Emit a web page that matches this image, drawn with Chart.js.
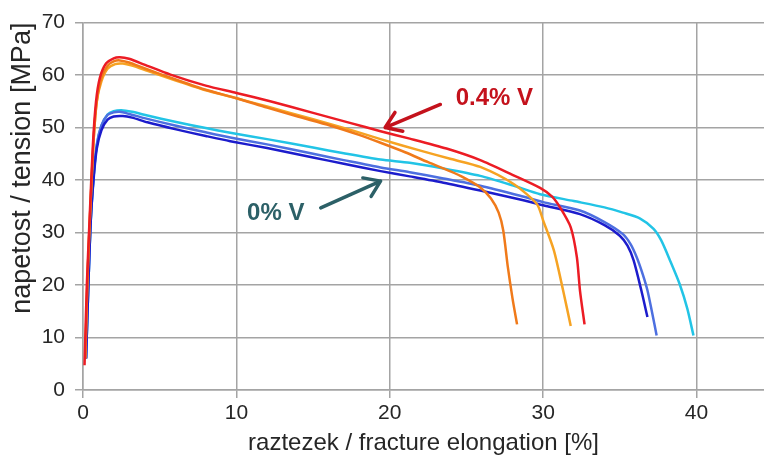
<!DOCTYPE html>
<html>
<head>
<meta charset="utf-8">
<script src="https://cdn.jsdelivr.net/npm/chart.js@4.4.1/dist/chart.umd.min.js"></script>
<style>
    html, body { margin: 0; padding: 0; background: #fff; }
    #wrap { width: 764px; height: 460px; }
</style>
</head>
<body>
<div id="wrap"><canvas id="tensileChart" width="764" height="460"></canvas></div>
<script>
// Tensile curves (elongation %, tension MPa)
const yTicks = [0, 10, 20, 30, 40, 50, 60, 70];
const xTicks = [0, 10, 20, 30, 40];

// 0.4% V samples
const redX = [0.1, 0.25, 0.45, 0.65, 0.85, 1.1, 1.5, 2.0, 2.4, 3.0, 4.0, 5.7, 8, 10, 12.2, 15, 17.4, 19.4, 21.3, 23.7, 25.9, 28.0, 29.8, 30.6, 31.1, 31.8, 32.2, 32.4, 32.7];
const redY = [4.7, 20, 34, 47, 55, 59.5, 62.2, 63.2, 63.4, 63.1, 62.0, 60.1, 58.0, 56.6, 55.0, 52.8, 50.9, 49.3, 47.9, 46.0, 43.8, 41.0, 38.5, 36.8, 34.8, 31.0, 25.3, 19.0, 12.5];

const amberX = [0.15, 0.3, 0.5, 0.7, 0.9, 1.2, 1.6, 2.1, 2.6, 3.2, 4.2, 6, 8, 10, 12, 15, 17.4, 19.4, 22, 24, 25.9, 28.1, 29.6, 30.0, 30.7, 31.3, 31.8];
const amberY = [6, 22, 36, 48, 55, 58.8, 61.2, 62.1, 62.2, 61.8, 60.8, 59.0, 57.1, 55.6, 54.0, 51.6, 49.6, 47.8, 45.6, 44.0, 42.5, 39.2, 35.4, 32.3, 26.6, 19.0, 12.2];

const orangeX = [0.15, 0.3, 0.5, 0.7, 0.9, 1.2, 1.6, 2.0, 2.4, 3.0, 4.0, 6, 8, 10, 12, 14, 16.1, 18, 19.4, 21, 22.5, 24, 24.8, 25.9, 26.6, 27.1, 27.4, 27.7, 28.0, 28.3];
const orangeY = [6, 22, 36, 48, 55, 59.5, 61.8, 62.6, 62.8, 62.4, 61.3, 59.2, 57.2, 55.6, 53.8, 52.1, 50.4, 48.6, 47.1, 45.3, 43.4, 41.6, 40.5, 38.6, 36.5, 33.8, 30.4, 23.4, 17.5, 12.5];

// 0% V samples
const cyanX = [0.2, 0.35, 0.5, 0.7, 0.9, 1.2, 1.6, 2.0, 2.5, 3.2, 4.2, 6, 8, 9.6, 12, 15, 17, 19.4, 21.3, 23.5, 25.9, 28, 29.8, 32, 34, 35.2, 36.3, 37.2, 37.7, 38.3, 38.9, 39.4, 39.8];
const cyanY = [6, 20, 32, 41, 46.5, 50.3, 52.5, 53.1, 53.3, 53.0, 52.3, 51.1, 49.9, 49.0, 47.8, 46.2, 45.1, 43.9, 43.3, 42.2, 40.8, 39.0, 37.3, 36.0, 34.8, 33.8, 32.7, 30.7, 28.5, 24.5, 20.2, 15.5, 10.4];

const blueX = [0.2, 0.35, 0.5, 0.7, 0.9, 1.2, 1.6, 2.0, 2.4, 3.0, 4.0, 6, 8, 9.6, 12, 15, 17, 19.4, 21.3, 23.5, 25.9, 28.5, 30, 32.4, 34, 35.2, 35.7, 36.1, 36.5, 36.8, 37.1, 37.4];
const blueY = [6, 20, 32, 41, 46.8, 50.4, 52.4, 52.9, 53.0, 52.6, 51.8, 50.4, 49.1, 48.1, 46.8, 45.0, 43.8, 42.4, 41.5, 40.3, 38.9, 37.0, 35.8, 34.2, 32.0, 29.7, 27.8, 25.3, 22.0, 19.0, 14.8, 10.4];

const navyX = [0.2, 0.35, 0.5, 0.7, 0.9, 1.2, 1.6, 2.0, 2.6, 3.2, 4.2, 6, 8, 9.6, 12, 15, 17, 19.4, 21.3, 23.5, 25.9, 28.5, 30, 32.4, 34, 35.0, 35.5, 35.9, 36.4, 36.8];
const navyY = [6, 20, 32, 40.5, 46, 49.5, 51.5, 52.1, 52.2, 51.9, 51.0, 49.7, 48.4, 47.4, 46.1, 44.3, 43.1, 41.7, 40.7, 39.5, 38.0, 36.3, 35.2, 33.5, 31.4, 29.4, 27.5, 24.7, 19.0, 13.9];

// Labels with arrows: [text x, text y, tail x, tail y, head x, head y]
const labelHigh = { text: '0.4% V', pos: [24.3, 55.6, 23.3, 54.4, 19.7, 50.0] };
const labelLow = { text: '0% V', pos: [10.7, 33.6, 15.5, 34.7, 19.4, 39.8] };

function toPoints(xs, ys) {
    return xs.map((x, i) => ({ x: x, y: ys[i] }));
}

function curve(xs, ys, color) {
    return {
        data: toPoints(xs, ys),
        borderColor: color,
        backgroundColor: color,
        borderWidth: 2.5,
        pointRadius: 0,
        showLine: true,
        tension: 0.25,
        fill: false
    };
}

// Draws the two callouts with arrows in data coordinates
const calloutPlugin = {
    id: 'callouts',
    afterDatasetsDraw(chart) {
        const ctx = chart.ctx;
        const xs = chart.scales.x;
        const ys = chart.scales.y;
        const items = [
            { label: labelHigh, color: '#c4121c' },
            { label: labelLow, color: '#2c6067' }
        ];
        items.forEach(item => {
            const p = item.label.pos;
            ctx.save();
            ctx.fillStyle = item.color;
            ctx.strokeStyle = item.color;
            ctx.font = 'bold 24px "Liberation Sans", Arial, sans-serif';
            ctx.textBaseline = 'middle';
            ctx.textAlign = 'left';
            ctx.fillText(item.label.text, xs.getPixelForValue(p[0]), ys.getPixelForValue(p[1]));

            const x1 = xs.getPixelForValue(p[2]);
            const y1 = ys.getPixelForValue(p[3]);
            const x2 = xs.getPixelForValue(p[4]);
            const y2 = ys.getPixelForValue(p[5]);
            const ang = Math.atan2(y2 - y1, x2 - x1);
            const head = 18;
            ctx.lineWidth = 3.5;
            ctx.lineCap = 'round';
            ctx.lineJoin = 'round';
            ctx.beginPath();
            ctx.moveTo(x1, y1);
            ctx.lineTo(x2, y2);
            ctx.moveTo(x2 - head * Math.cos(ang - 0.6), y2 - head * Math.sin(ang - 0.6));
            ctx.lineTo(x2, y2);
            ctx.lineTo(x2 - head * Math.cos(ang + 0.6), y2 - head * Math.sin(ang + 0.6));
            ctx.stroke();
            ctx.restore();
        });
    }
};

const gridColor = '#a4a4a4';
const textColor = '#262626';
const fontFamily = '"Liberation Sans", Arial, sans-serif';

new Chart(document.getElementById('tensileChart').getContext('2d'), {
    type: 'scatter',
    data: {
        datasets: [
            curve(redX, redY, '#ec1c24'),
            curve(orangeX, orangeY, '#f07a1a'),
            curve(amberX, amberY, '#f6a323'),
            curve(navyX, navyY, '#1c1ccc'),
            curve(blueX, blueY, '#4d6fe0'),
            curve(cyanX, cyanY, '#22c4e6')
        ]
    },
    options: {
        responsive: false,
        animation: false,
        layout: { padding: { top: 22, right: 0, bottom: 0, left: 0 } },
        plugins: {
            legend: { display: false },
            tooltip: { enabled: false }
        },
        scales: {
            x: {
                type: 'linear',
                min: 0,
                max: 44.4,
                afterBuildTicks: function(scale) {
                    scale.ticks = xTicks.map(v => ({ value: v }));
                },
                afterFit: function(scale) {
                    scale.height = 70;
                },
                ticks: {
                    color: textColor,
                    font: { family: fontFamily, size: 21 },
                    padding: 3,
                    maxRotation: 0
                },
                grid: { color: gridColor, lineWidth: 1.5, tickLength: 8 },
                border: { color: gridColor, width: 1.5 },
                title: {
                    display: true,
                    text: 'raztezek / fracture elongation [%]',
                    color: textColor,
                    font: { family: fontFamily, size: 24 },
                    padding: { top: 0, bottom: 2 }
                }
            },
            y: {
                type: 'linear',
                min: 0,
                max: 70,
                afterBuildTicks: function(scale) {
                    scale.ticks = yTicks.map(v => ({ value: v }));
                },
                afterFit: function(scale) {
                    scale.width = 83;
                },
                ticks: {
                    color: textColor,
                    font: { family: fontFamily, size: 21 },
                    padding: 10
                },
                grid: { color: gridColor, lineWidth: 1.5, tickLength: 8 },
                border: { color: gridColor, width: 1.5 },
                title: {
                    display: true,
                    text: 'napetost / tension [MPa]',
                    color: textColor,
                    align: 'end',
                    font: { family: fontFamily, size: 27 },
                    padding: { top: 6, bottom: 0 }
                }
            }
        }
    },
    plugins: [calloutPlugin]
});
</script>
</body>
</html>
